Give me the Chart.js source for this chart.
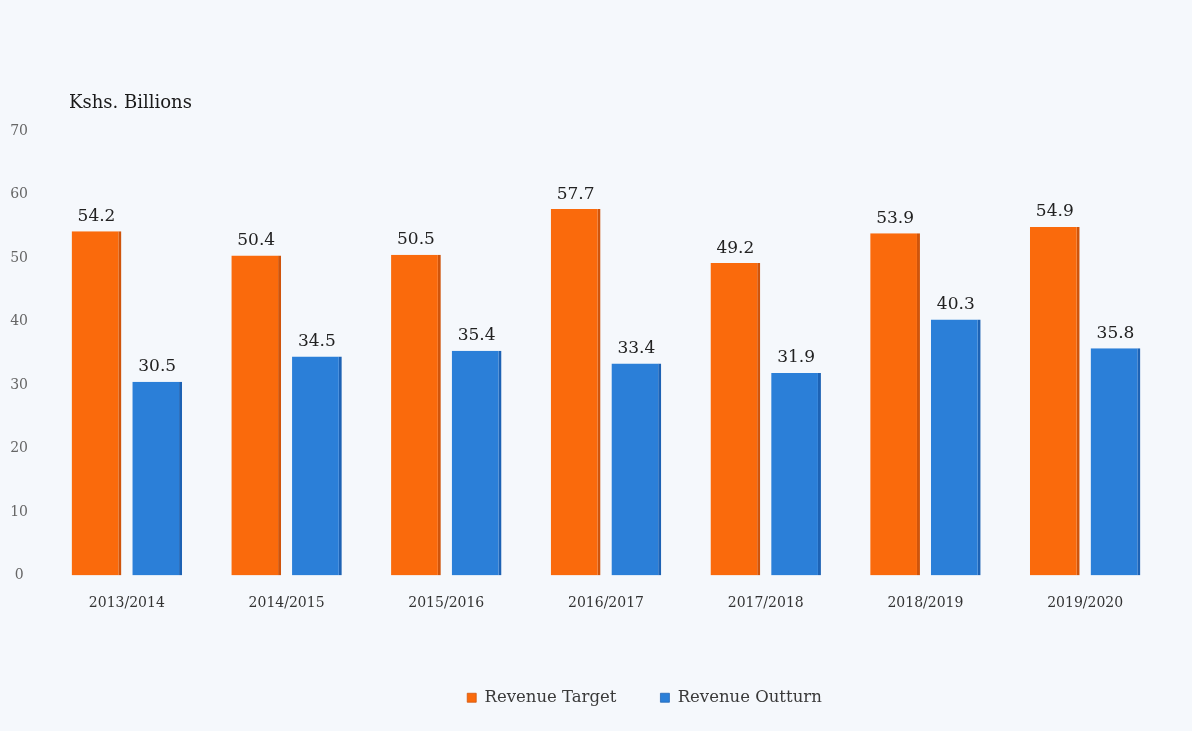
<!DOCTYPE html>
<html lang="en">
<head>
    <meta charset="UTF-8">
    <title>Revenue Target vs Revenue Outturn</title>
    <script src="https://cdn.jsdelivr.net/npm/chart.js"></script>
    <style>
        html, body {
            margin: 0;
            padding: 0;
            background-color: #f5f8fc;
        }
        #wrap {
            width: 1192px;
            height: 731px;
        }
    </style>
</head>
<body>
    <div id="wrap"><canvas id="revenueChart"></canvas></div>

    <script>
        // Data
        const years = ['2013/2014', '2014/2015', '2015/2016', '2016/2017', '2017/2018', '2018/2019', '2019/2020'];
        const revenueTarget = [54.2, 50.4, 50.5, 57.7, 49.2, 53.9, 54.9];
        const revenueOutturn = [30.5, 34.5, 35.4, 33.4, 31.9, 40.3, 35.8];
        const yTicks = [0, 10, 20, 30, 40, 50, 60, 70];
        const unitLabel = 'Kshs. Billions';

        const serif = "'DejaVu Serif', serif";

        // Unit label in the top left corner
        const unitPlugin = {
            id: 'unitLabel',
            afterDraw(chart) {
                const ctx = chart.ctx;
                ctx.save();
                ctx.font = '18px ' + serif;
                ctx.fillStyle = '#1a1a1a';
                ctx.textAlign = 'left';
                ctx.textBaseline = 'middle';
                ctx.fillText(unitLabel, 69, 103);
                ctx.restore();
            }
        };

        // Values above the bars
        const valuePlugin = {
            id: 'valueLabels',
            afterDatasetsDraw(chart) {
                const ctx = chart.ctx;
                ctx.save();
                ctx.font = '17px ' + serif;
                ctx.fillStyle = '#222';
                ctx.textAlign = 'center';
                ctx.textBaseline = 'middle';
                chart.data.datasets.forEach((ds, i) => {
                    chart.getDatasetMeta(i).data.forEach((bar, j) => {
                        ctx.fillText(ds.data[j].toFixed(1), bar.x, bar.y - 15);
                    });
                });
                ctx.restore();
            }
        };

        // The legend sits a bit right of centre in the original
        const legendShift = {
            id: 'legendShift',
            afterLayout(chart) {
                chart.legend.left += 62;
                chart.legend.right += 62;
            }
        };

        const ctx = document.getElementById('revenueChart').getContext('2d');
        new Chart(ctx, {
            type: 'bar',
            data: {
                labels: years,
                datasets: [{
                    label: 'Revenue Target',
                    data: revenueTarget,
                    backgroundColor: '#fa6a0c',
                    borderColor: '#cf540b',
                    borderWidth: { right: 3, left: 0, top: 0, bottom: 0 },
                    borderSkipped: false
                }, {
                    label: 'Revenue Outturn',
                    data: revenueOutturn,
                    backgroundColor: '#2b7fd8',
                    borderColor: '#1d62b4',
                    borderWidth: { right: 3, left: 0, top: 0, bottom: 0 },
                    borderSkipped: false
                }]
            },
            options: {
                responsive: true,
                maintainAspectRatio: false,
                animation: false,
                categoryPercentage: 0.76,
                barPercentage: 0.82,
                layout: {
                    padding: { top: 131, left: 0, right: 27, bottom: 15 }
                },
                plugins: {
                    tooltip: { enabled: false },
                    legend: {
                        position: 'bottom',
                        labels: {
                            boxWidth: 9,
                            boxHeight: 9,
                            padding: 44,
                            color: '#3a3a3a',
                            font: { family: serif, size: 16.5 }
                        }
                    }
                },
                scales: {
                    x: {
                        grid: { display: false, drawTicks: false },
                        border: { display: false },
                        ticks: {
                            color: '#333',
                            padding: 19,
                            font: { family: serif, size: 14 }
                        },
                        afterFit(scale) {
                            scale.height = 70;
                        }
                    },
                    y: {
                        min: 0,
                        max: 70,
                        afterBuildTicks(scale) {
                            scale.ticks = yTicks.map(v => ({ value: v }));
                        },
                        grid: { display: false, drawTicks: false },
                        border: { display: false },
                        ticks: {
                            color: '#666',
                            padding: 19,
                            crossAlign: 'center',
                            font: { family: serif, size: 14 }
                        },
                        afterFit(scale) {
                            scale.width = 47;
                        }
                    }
                }
            },
            plugins: [unitPlugin, valuePlugin, legendShift]
        });
    </script>
</body>
</html>
